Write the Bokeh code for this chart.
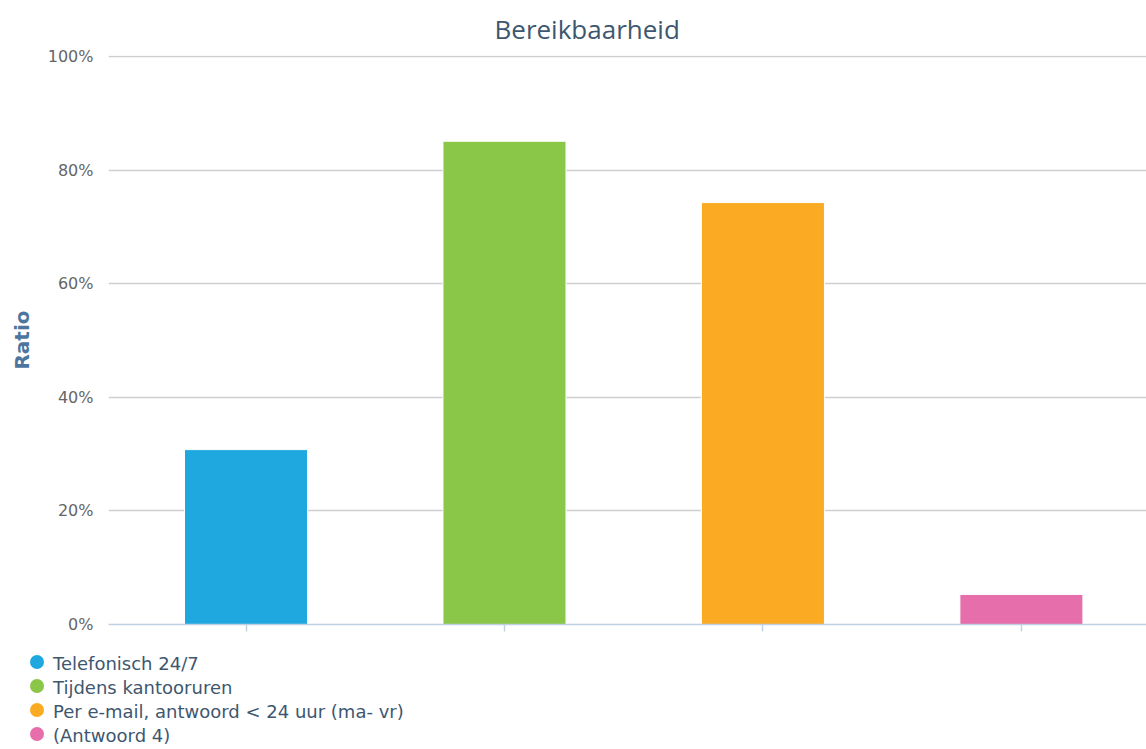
import html
from bokeh.plotting import figure
from bokeh.models import (Range1d, FixedTicker, NumeralTickFormatter, Title, ColumnDataSource, Div)
from bokeh.layouts import column
from bokeh.embed import file_html
from bokeh.resources import INLINE

# ---- data ----
categories = ["Telefonisch 24/7", "Tijdens kantooruren",
              "Per e-mail, antwoord < 24 uur (ma- vr)", "(Antwoord 4)"]
ratios = [0.308, 0.851, 0.743, 0.053]
colors = ["#1fa8e0", "#8ac648", "#fbaa24", "#e66eaa"]
y_ticks = [0, 0.2, 0.4, 0.6, 0.8, 1.0]
chart_title = "Bereikbaarheid"
y_title = "Ratio"

FONT = "DejaVu Sans"
W = 1146
MAIN_H = 644
LEG_H = 105

idx = list(range(len(categories)))
src = ColumnDataSource(dict(x=idx, top=ratios, color=colors, name=categories))

p = figure(width=W, height=MAIN_H, output_backend="svg", toolbar_location=None,
           x_range=Range1d(-0.532, 3.484), y_range=Range1d(0, 1.002),
           min_border_left=108, min_border_right=0, min_border_top=55,
           min_border_bottom=20, outline_line_color=None)
t = Title(text=chart_title, align="left", offset=386, text_font="Open Sans",
          text_font_size="26px", text_font_style="normal", text_color="#3e576f",
          vertical_align="top", standoff=13)
p.add_layout(t, "above")

p.vbar(x="x", top="top", bottom=0, width=0.476, fill_color="color",
       line_color="white", line_width=1, source=src)

# y axis
p.yaxis.ticker = FixedTicker(ticks=y_ticks)
p.yaxis.formatter = NumeralTickFormatter(format="0%")
p.yaxis.axis_line_color = None
p.yaxis.major_tick_line_color = None
p.yaxis.major_tick_out = 0
p.yaxis.major_tick_in = 0
p.yaxis.minor_tick_line_color = None
p.yaxis.major_label_standoff = 15
p.yaxis.major_label_text_font = FONT
p.yaxis.major_label_text_font_size = "16px"
p.yaxis.major_label_text_color = "#666666"
p.yaxis.axis_label = y_title
p.yaxis.axis_label_text_font = FONT
p.yaxis.axis_label_text_font_size = "20px"
p.yaxis.axis_label_text_font_style = "bold"
p.yaxis.axis_label_text_color = "#4d759e"
p.yaxis.axis_label_standoff = 11

# x axis (ticks only)
p.xaxis.ticker = FixedTicker(ticks=idx)
p.xaxis.major_label_overrides = {i: "" for i in idx}
p.xaxis.major_label_text_font_size = "10px"
p.xaxis.major_label_standoff = 0
p.xaxis.axis_line_color = "#c0d0e0"
p.xaxis.axis_line_width = 1.4
p.xaxis.major_tick_line_color = "#c0d0e0"
p.xaxis.major_tick_line_width = 1.4
p.xaxis.major_tick_in = 0
p.xaxis.major_tick_out = 7
p.xaxis.minor_tick_line_color = None

p.xgrid.grid_line_color = None
p.ygrid.ticker = FixedTicker(ticks=y_ticks)
p.ygrid.grid_line_color = "#cfcfcf"
p.ygrid.grid_line_width = 1.4

# ---- legend (HTML strip below the chart) ----
ROW0 = 17.7
PITCH = 24.1
parts = []
for i, (name, color) in enumerate(zip(categories, colors)):
    cy = ROW0 + PITCH * i
    parts.append(
        f'<div style="position:absolute;left:30px;top:{cy - 7:.1f}px;width:14px;height:14px;'
        f'border-radius:50%;background:{color};"></div>')
    parts.append(
        f'<div style="position:absolute;left:53px;top:{cy - 9.8:.1f}px;height:24px;line-height:24px;'
        f'font-family:\'DejaVu Sans\';font-size:18px;color:#3e576f;white-space:nowrap;">'
        f'{html.escape(name)}</div>')
legend_html = (f'<div style="position:relative;width:{W}px;height:{LEG_H}px;margin:0;padding:0;">'
               + "".join(parts) + "</div>")
leg = Div(text=legend_html, width=W, height=LEG_H, margin=0)

layout = column(p, leg, spacing=0)
open("out.html", "w").write(file_html(layout, INLINE))
